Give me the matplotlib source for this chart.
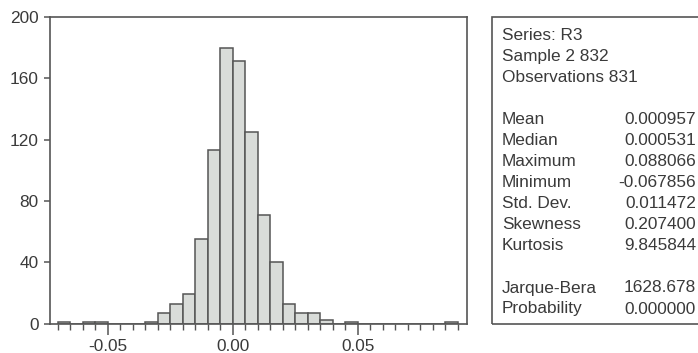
import numpy as np
import matplotlib
matplotlib.use("Agg")
import matplotlib.pyplot as plt
from matplotlib.ticker import MultipleLocator
from matplotlib.patches import Rectangle

plt.rcParams['font.family'] = ['Liberation Sans', 'DejaVu Sans']

# histogram of R3: left edge of each bin (width 0.005) and count
bin_left = [-0.070, -0.065, -0.060, -0.055, -0.050, -0.045, -0.040, -0.035,
            -0.030, -0.025, -0.020, -0.015, -0.010, -0.005, 0.000, 0.005,
            0.010, 0.015, 0.020, 0.025, 0.030, 0.035, 0.040, 0.045,
            0.050, 0.055, 0.060, 0.065, 0.070, 0.075, 0.080, 0.085]
counts = [1, 0, 1, 1, 0, 0, 0, 1,
          7, 13, 19, 55, 113, 180, 171, 125,
          71, 40, 13, 7, 7, 2, 0, 1,
          0, 0, 0, 0, 0, 0, 0, 1]
bin_width = 0.005

# summary statistics box
header_lines = ["Series: R3", "Sample 2 832", "Observations 831"]
stat_names = ["Mean", "Median", "Maximum", "Minimum", "Std. Dev.", "Skewness", "Kurtosis"]
stat_values = ["0.000957", "0.000531", "0.088066", "-0.067856", "0.011472", "0.207400", "9.845844"]
test_names = ["Jarque-Bera", "Probability"]
test_values = ["1628.678", "0.000000"]

W, H = 698, 353
txt = '#3a3a3a'
edge = '#555555'
fs = 12.4

fig = plt.figure(figsize=(W / 100, H / 100), dpi=100)
ax = fig.add_axes([49.5 / W, (H - 323.5) / H, (466.5 - 49.5) / W, (323.5 - 17) / H])

ax.bar(bin_left, counts, width=bin_width, align='edge', color='#d9dcd9',
       edgecolor=edge, linewidth=1.1)

ax.set_xlim(-0.0733, 0.0935)
ax.set_ylim(0, 200)
ax.xaxis.set_major_locator(MultipleLocator(0.05))
ax.xaxis.set_minor_locator(MultipleLocator(0.005))
ax.yaxis.set_major_locator(MultipleLocator(40))
ax.set_xticklabels([])
ax.xaxis.set_major_formatter(plt.FuncFormatter(lambda v, p: "%.2f" % v if abs(v) > 1e-9 else "0.00"))
ax.yaxis.set_major_formatter(plt.FuncFormatter(lambda v, p: "%d" % v))

for s in ax.spines.values():
    s.set_color(edge)
    s.set_linewidth(1.2)
ax.tick_params(axis='x', which='major', direction='out', length=8, width=1.1,
               color=edge, labelsize=fs, labelcolor=txt, pad=3)
ax.tick_params(axis='x', which='minor', direction='out', length=4, width=1.0, color=edge)
ax.tick_params(axis='y', which='major', direction='out', length=4, width=1.1,
               color=edge, labelsize=fs, labelcolor=txt, pad=4)

# stats box
fig.patches.append(Rectangle((492 / W, (H - 323.5) / H), (710 - 492) / W, (323.5 - 17) / H,
                             transform=fig.transFigure, fill=False, edgecolor=edge,
                             linewidth=1.2, clip_on=False))

lx = 502 / W
vx = 696 / W
row = 21.0
y0 = 36
for i, t in enumerate(header_lines):
    fig.text(lx, 1 - (y0 + i * row) / H, t, fontsize=fs, color=txt, va='center', ha='left')
y1 = 120
for i, (n, v) in enumerate(zip(stat_names, stat_values)):
    y = 1 - (y1 + i * 20.9) / H
    fig.text(lx, y, n, fontsize=fs, color=txt, va='center', ha='left')
    fig.text(vx, y, v, fontsize=fs, color=txt, va='center', ha='right')
y2 = 288
for i, (n, v) in enumerate(zip(test_names, test_values)):
    y = 1 - (y2 + i * row) / H
    fig.text(lx, y, n, fontsize=fs, color=txt, va='center', ha='left')
    fig.text(vx, y, v, fontsize=fs, color=txt, va='center', ha='right')

fig.savefig("out.png", dpi=100)
